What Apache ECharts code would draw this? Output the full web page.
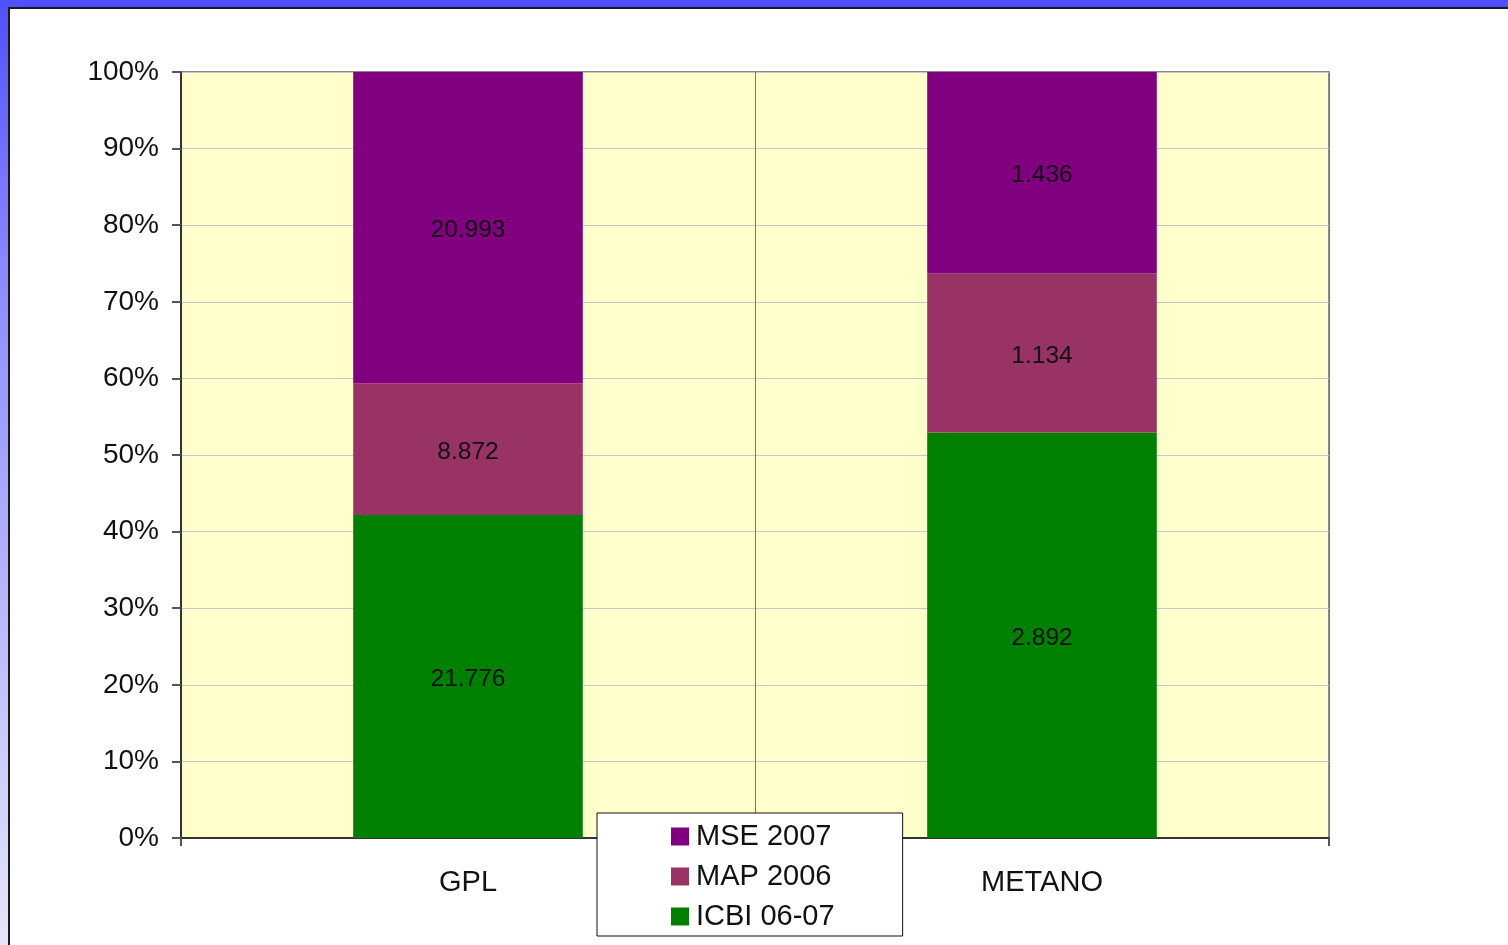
<!DOCTYPE html>
<html>
<head>
<meta charset="utf-8">
<script src="https://cdn.jsdelivr.net/npm/echarts@6/dist/echarts.min.js"></script>
<style>
  html, body { margin: 0; padding: 0; width: 1508px; height: 945px; overflow: hidden; }
  body { background: linear-gradient(to bottom, #5050ff 0%, #8c8cff 30%, #e6e6fa 100%); position: relative; }
  #topband { position: absolute; left: 0; top: 0; width: 1508px; height: 8px; background: #5050ff; }
  #frame { position: absolute; left: 8px; top: 7px; right: 0; bottom: 0; background: #fff;
           border-left: 2px solid #1a1a1a; border-top: 2px solid #1a1a1a; }
  #chart { position: absolute; left: 0; top: 0; width: 1508px; height: 945px; }
</style>
</head>
<body>
<div id="topband"></div>
<div id="frame"></div>
<div id="chart"></div>
<script>
// categories and raw values (thousands, as printed on the bars)
const categories = ["GPL", "METANO"]
const icbiValues = [21776, 2892]
const mapValues = [8872, 1134]
const mseValues = [20993, 1436]
const seriesNames = ["ICBI 06-07", "MAP 2006", "MSE 2007"]
const seriesColors = ["#008000", "#993366", "#800080"]
const yTicks = [0, 10, 20, 30, 40, 50, 60, 70, 80, 90, 100]

const totals = categories.map((c, i) => icbiValues[i] + mapValues[i] + mseValues[i])

// 21776 -> "21.776"
function fmt(v) {
  return String(v).replace(/\B(?=(\d{3})+(?!\d))/g, ".")
}

function makeSeries(name, values, color) {
  return {
    type: "bar",
    name: name,
    stack: "total",
    barWidth: "40%",
    itemStyle: { color: color },
    label: {
      show: true,
      position: "inside",
      offset: [0, 3],
      color: "#111",
      fontSize: 24.5,
      formatter: (p) => fmt(values[p.dataIndex])
    },
    data: values.map((v, i) => (v / totals[i]) * 100)
  }
}

const chart = echarts.init(document.getElementById("chart"), null, { renderer: "canvas" })

const option = {
  backgroundColor: "transparent",
  animation: false,
  textStyle: { fontFamily: "Liberation Sans, Arial, sans-serif" },
  grid: {
    left: 181,
    top: 72,
    width: 1148,
    height: 766,
    show: true,
    backgroundColor: "#ffffcc",
    borderColor: "#8c8c8c",
    borderWidth: 2
  },
  legend: {
    orient: "vertical",
    left: 597,
    top: 813,
    data: [seriesNames[2], seriesNames[1], seriesNames[0]],
    backgroundColor: "#fff",
    borderColor: "#111",
    borderWidth: 1,
    padding: [9, 68, 5, 74],
    itemWidth: 18,
    itemHeight: 18,
    itemGap: 11,
    icon: "rect",
    textStyle: { fontSize: 29, color: "#111", padding: [0, 0, 0, 2] }
  },
  xAxis: {
    type: "category",
    data: categories,
    axisLine: { show: true, lineStyle: { color: "#333", width: 2 } },
    axisTick: { show: true, length: 8, lineStyle: { color: "#555", width: 2 } },
    axisLabel: { fontSize: 29, color: "#111", margin: 30 },
    splitLine: { show: true, interval: 0, lineStyle: { color: "#777", width: 1 } }
  },
  yAxis: {
    type: "value",
    min: yTicks[0],
    max: yTicks[yTicks.length - 1],
    interval: 10,
    axisLine: { show: true, lineStyle: { color: "#333", width: 2 } },
    axisTick: { show: true, length: 9, lineStyle: { color: "#555", width: 2 } },
    axisLabel: { fontSize: 28, color: "#111", margin: 22, formatter: "{value}%" },
    splitLine: { show: true, lineStyle: { color: "#c8c8c8", width: 1 } }
  },
  series: [
    makeSeries(seriesNames[0], icbiValues, seriesColors[0]),
    makeSeries(seriesNames[1], mapValues, seriesColors[1]),
    makeSeries(seriesNames[2], mseValues, seriesColors[2])
  ]
}

chart.setOption(option)
</script>
</body>
</html>
